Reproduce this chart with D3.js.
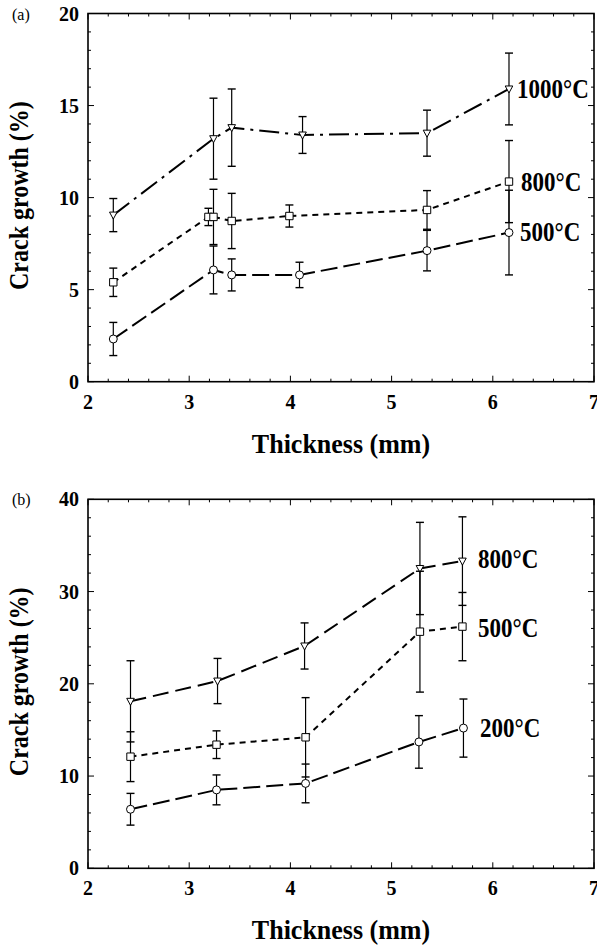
<!DOCTYPE html>
<html>
<head>
<meta charset="utf-8">
<script src="https://cdn.jsdelivr.net/npm/d3@7"></script>
<style>
  html, body { margin: 0; padding: 0; background: #fff; }
  svg { display: block; }
  text { font-family: 'Liberation Serif', 'Times New Roman', serif; }
</style>
</head>
<body>
<svg id="chart" width="597" height="947"></svg>
<script>
// panel (a): thickness (mm) vs crack growth (%)
const xA1000 = [2.25, 3.24, 3.42, 4.12, 5.35, 6.16]
const yA1000 = [9.05, 13.2, 13.8, 13.4, 13.5, 15.9]
const eA1000 = [0.9, 2.2, 2.1, 1.0, 1.25, 1.95]

const xA800 = [2.25, 3.19, 3.24, 3.42, 3.99, 5.35, 6.16]
const yA800 = [5.4, 8.95, 8.95, 8.73, 9.0, 9.33, 10.87]
const eA800 = [0.77, 0.47, 1.5, 1.5, 0.6, 1.05, 2.23]

const xA500 = [2.25, 3.24, 3.42, 4.09, 5.35, 6.16]
const yA500 = [2.32, 6.07, 5.8, 5.8, 7.12, 8.1]
const eA500 = [0.9, 1.3, 0.87, 0.69, 1.1, 2.3]

// panel (b)
const xB800 = [2.42, 3.28, 4.14, 5.28, 5.70]
const yB800 = [18.1, 20.3, 24.1, 32.5, 33.3]
const eB800 = [4.4, 2.45, 2.5, 5.0, 4.8]

const xB500 = [2.42, 3.27, 4.15, 5.28, 5.70]
const yB500 = [12.1, 13.4, 14.2, 25.65, 26.2]
const eB500 = [2.7, 1.5, 4.3, 6.55, 3.7]

const xB200 = [2.42, 3.27, 4.15, 5.27, 5.71]
const yB200 = [6.4, 8.5, 9.2, 13.7, 15.2]
const eB200 = [1.72, 1.62, 2.1, 2.85, 3.15]

const xTicks = [2, 3, 4, 5, 6, 7]
const yTicksA = [0, 5, 10, 15, 20]
const yTicksB = [0, 10, 20, 30, 40]

const zip = (xs, ys, es) => xs.map((x, i) => ({ x, y: ys[i], e: es[i] }))

const panels = [
  {
    tag: '(a)', top: 13.5, bottom: 381.7, yMax: 20, yTicks: yTicksA, yMinorStep: 1,
    series: [
      { name: '1000°C', data: zip(xA1000, yA1000, eA1000), marker: 'tri', dash: '20,6,3,6', labelAt: [517, 89] },
      { name: '800°C', data: zip(xA800, yA800, eA800), marker: 'square', dash: '6,5', labelAt: [521, 182] },
      { name: '500°C', data: zip(xA500, yA500, eA500), marker: 'circle', dash: '17,6', labelAt: [520, 232] }
    ]
  },
  {
    tag: '(b)', top: 499.3, bottom: 868.3, yMax: 40, yTicks: yTicksB, yMinorStep: 2,
    series: [
      { name: '800°C', data: zip(xB800, yB800, eB800), marker: 'tri', dash: '16,7', labelAt: [478, 559] },
      { name: '500°C', data: zip(xB500, yB500, eB500), marker: 'square', dash: '6,5', labelAt: [478, 628] },
      { name: '200°C', data: zip(xB200, yB200, eB200), marker: 'circle', dash: '17,6', labelAt: [480, 728] }
    ]
  }
]

const svg = d3.select('#chart')
const left = 88
const right = 594

panels.forEach(p => drawPanel(p))

function drawPanel(p) {
  const x = d3.scaleLinear().domain([2, 7]).range([left, right])
  const y = d3.scaleLinear().domain([0, p.yMax]).range([p.bottom, p.top])

  const g = svg.append('g')

  // inward ticks on all four sides
  const xMinor = d3.range(2, 7.001, 0.2)
  const yMinor = d3.range(0, p.yMax + 0.001, p.yMinorStep)
  const isMajor = (v, list) => list.some(t => Math.abs(t - v) < 1e-6)

  xMinor.forEach(v => {
    const len = isMajor(v, xTicks) ? 6 : 3
    g.append('line').attr('x1', x(v)).attr('x2', x(v)).attr('y1', p.bottom).attr('y2', p.bottom - len)
      .attr('stroke', '#000').attr('stroke-width', 1)
    g.append('line').attr('x1', x(v)).attr('x2', x(v)).attr('y1', p.top).attr('y2', p.top + len)
      .attr('stroke', '#000').attr('stroke-width', 1)
  })
  yMinor.forEach(v => {
    const len = isMajor(v, p.yTicks) ? 6 : 3
    g.append('line').attr('x1', left).attr('x2', left + len).attr('y1', y(v)).attr('y2', y(v))
      .attr('stroke', '#000').attr('stroke-width', 1)
    g.append('line').attr('x1', right).attr('x2', right - len).attr('y1', y(v)).attr('y2', y(v))
      .attr('stroke', '#000').attr('stroke-width', 1)
  })

  g.append('rect')
    .attr('x', left).attr('y', p.top)
    .attr('width', right - left).attr('height', p.bottom - p.top)
    .attr('fill', 'none').attr('stroke', '#000').attr('stroke-width', 1.6)

  // tick labels
  g.selectAll('.xl').data(xTicks).enter().append('text')
    .attr('x', d => x(d)).attr('y', p.bottom + 27)
    .attr('text-anchor', 'middle').attr('font-size', '20px').attr('font-weight', 'bold')
    .text(d => d)
  g.selectAll('.yl').data(p.yTicks).enter().append('text')
    .attr('x', 79).attr('y', d => y(d) + 7)
    .attr('text-anchor', 'end').attr('font-size', '20px').attr('font-weight', 'bold')
    .text(d => d)

  // axis titles
  g.append('text')
    .attr('transform', `translate(${(left + right) / 2},${p.bottom + 71}) scale(1,1.05)`)
    .attr('text-anchor', 'middle').attr('font-size', '26px').attr('font-weight', 'bold')
    .text('Thickness (mm)')
  g.append('text')
    .attr('transform', `translate(28,${(p.top + p.bottom) / 2 - 2}) rotate(-90) scale(1,1.1)`)
    .attr('text-anchor', 'middle').attr('font-size', '24px').attr('font-weight', 'bold')
    .text('Crack growth (%)')

  g.append('text')
    .attr('x', 12).attr('y', p.top + 6)
    .attr('font-size', '16px')
    .text(p.tag)

  const line = d3.line().x(d => x(d.x)).y(d => y(d.y))

  p.series.forEach(s => {
    g.append('path')
      .datum(s.data)
      .attr('d', line)
      .attr('fill', 'none')
      .attr('stroke', '#000')
      .attr('stroke-width', 2)
      .attr('stroke-dasharray', s.dash)

    const eb = g.append('g').selectAll('g').data(s.data).enter().append('g')
    eb.append('line')
      .attr('x1', d => x(d.x)).attr('x2', d => x(d.x))
      .attr('y1', d => y(d.y + d.e)).attr('y2', d => y(d.y - d.e))
      .attr('stroke', '#000').attr('stroke-width', 1.2)
    ;[1, -1].forEach(sign => {
      eb.append('line')
        .attr('x1', d => x(d.x) - 4).attr('x2', d => x(d.x) + 4)
        .attr('y1', d => y(d.y + sign * d.e)).attr('y2', d => y(d.y + sign * d.e))
        .attr('stroke', '#000').attr('stroke-width', 1.4)
    })

    const mk = g.append('g').selectAll('path').data(s.data).enter().append('path')
      .attr('transform', d => `translate(${x(d.x)},${y(d.y)})`)
      .attr('fill', '#fff').attr('stroke', '#000').attr('stroke-width', 1)
    if (s.marker === 'tri') mk.attr('d', 'M-3.8,-3 L3.8,-3 L0,4 Z')
    else if (s.marker === 'square') mk.attr('d', 'M-3.7,-3.7 H3.7 V3.7 H-3.7 Z')
    else mk.attr('d', d3.symbol(d3.symbolCircle, 50)())

    g.append('text')
      .attr('transform', `translate(${s.labelAt[0]},${s.labelAt[1] + 8.5}) scale(1,1.18)`)
      .attr('font-size', '23px').attr('font-weight', 'bold')
      .text(s.name)
  })
}
</script>
</body>
</html>
